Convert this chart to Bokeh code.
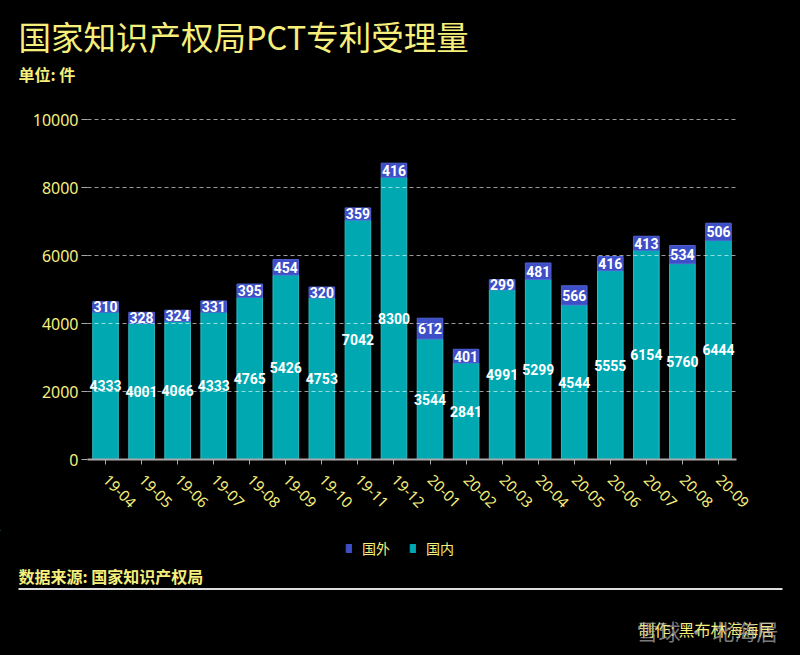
from bokeh.plotting import figure
from bokeh.layouts import column
from bokeh.models import (ColumnDataSource, FactorRange, Range1d, Legend, LegendItem,
                          SingleIntervalTicker, NumeralTickFormatter)
from bokeh.core.properties import value
from bokeh.embed import file_html
from bokeh.resources import INLINE
import math

months = ["19-04", "19-05", "19-06", "19-07", "19-08", "19-09", "19-10", "19-11", "19-12",
          "20-01", "20-02", "20-03", "20-04", "20-05", "20-06", "20-07", "20-08", "20-09"]
domestic = [4333, 4001, 4066, 4333, 4765, 5426, 4753, 7042, 8300,
            3544, 2841, 4991, 5299, 4544, 5555, 6154, 5760, 6444]
foreign = [310, 328, 324, 331, 395, 454, 320, 359, 416,
           612, 401, 299, 481, 566, 416, 413, 534, 506]
series_names = ["国外", "国内"]
title_text = "国家知识产权局PCT专利受理量"
unit_text = "单位: 件"
source_text = "数据来源: 国家知识产权局"
maker_text = "制作: 黑布林海海居"
watermark_text = "雪球 · 北海居"

YELLOW = "#f6ef7c"
TEAL = "#00a8b2"
BLUE = "#3d4ec6"
CJK = "Noto Sans CJK SC"
W = 800


def blank(h):
    f = figure(width=W, height=h, x_range=Range1d(0, W), y_range=Range1d(h, 0),
               output_backend="svg", toolbar_location=None, x_axis_type=None,
               y_axis_type=None, min_border=0, frame_align=False)
    f.background_fill_color = "black"
    f.border_fill_color = "black"
    f.outline_line_color = None
    f.grid.grid_line_color = None
    return f


# ---------- header ----------
head = blank(100)
head.text(x=[18], y=[35], text=[title_text], text_color=YELLOW, text_font=value(CJK),
          text_font_size="32.5px", text_baseline="middle")
head.text(x=[18], y=[73], text=[unit_text], text_color=YELLOW, text_font=value(CJK),
          text_font_size="16px", text_font_style="bold", text_baseline="middle")

# ---------- main chart ----------
src = ColumnDataSource(dict(
    month=months,
    domestic=domestic,
    foreign=foreign,
    dom_y=[d / 2 for d in domestic],
    for_y=[d + f / 2 for d, f in zip(domestic, foreign)],
    dom_txt=[str(d) for d in domestic],
    for_txt=[str(f) for f in foreign],
))

p = figure(width=W, height=430, x_range=FactorRange(*months, range_padding=0),
           y_range=Range1d(0, 10030), output_backend="svg", toolbar_location=None,
           min_border_left=87, min_border_right=64, min_border_top=18, min_border_bottom=71,
           frame_align=False)
p.background_fill_color = "black"
p.border_fill_color = "black"
p.outline_line_color = None

rs = p.vbar_stack(["domestic", "foreign"], x="month", width=0.71, color=[TEAL, BLUE],
                  line_color=["#2cbcc4", "#5062d6"], line_width=1, source=src)

for ycol, tcol in (("dom_y", "dom_txt"), ("for_y", "for_txt")):
    p.text(x="month", y=ycol, text=tcol, source=src, text_align="center",
           text_baseline="middle", text_color="white", text_font=value("Roboto"),
           text_font_style="bold", text_font_size="14px")

p.xgrid.grid_line_color = None
p.ygrid.grid_line_color = "white"
p.ygrid.grid_line_alpha = 0.6
p.ygrid.grid_line_dash = "4 3"
p.ygrid.level = "overlay"

p.yaxis.ticker = SingleIntervalTicker(interval=2000)
p.yaxis.axis_line_color = None
p.yaxis.major_tick_line_color = "#aaaaaa"
p.yaxis.major_tick_in = 0
p.yaxis.major_tick_out = 6
p.yaxis.minor_tick_line_color = None
p.yaxis.major_label_text_color = YELLOW
p.yaxis.major_label_text_font = "Noto Sans"
p.yaxis.major_label_text_font_size = "16px"
p.yaxis.major_label_standoff = 3
p.yaxis.formatter = NumeralTickFormatter(format="0")

p.xaxis.axis_line_color = "#aaaaaa"
p.xaxis.axis_line_width = 2
p.xaxis.major_tick_line_color = "#aaaaaa"
p.xaxis.major_tick_in = 0
p.xaxis.major_tick_out = 5
p.xaxis.major_label_orientation = -math.pi / 4
p.xaxis.major_label_text_color = YELLOW
p.xaxis.major_label_text_font = "Noto Sans"
p.xaxis.major_label_text_font_size = "15px"
p.xaxis.major_label_standoff = 13

# ---------- footer ----------
FH = 125
foot = blank(FH)
# legend swatches: helper renderers placed outside the visible range
lg_for = foot.vbar(x=[-500], top=[-500], bottom=[-510], width=1, color=BLUE)
lg_dom = foot.vbar(x=[-500], top=[-500], bottom=[-510], width=1, color=TEAL)
legend = Legend(items=[LegendItem(label=series_names[0], renderers=[lg_for]),
                       LegendItem(label=series_names[1], renderers=[lg_dom])],
                orientation="horizontal", location=(345, FH - 28),
                background_fill_alpha=0, border_line_color=None, padding=0, margin=0,
                glyph_width=7, glyph_height=10, label_standoff=10, spacing=19,
                label_text_color=YELLOW, label_text_font=CJK, label_text_font_size="14px",
                label_height=18)
foot.add_layout(legend, "center")
foot.text(x=[18], y=[45], text=[source_text], text_color=YELLOW, text_font=value(CJK),
          text_font_size="16px", text_font_style="bold", text_baseline="middle")
foot.line(x=[18, 782], y=[58.5, 58.5], line_color="#dddddd", line_width=2)
foot.text(x=[638], y=[98], text=[maker_text], text_color=YELLOW, text_font=value(CJK),
          text_font_size="16px", text_baseline="middle")
foot.text(x=[636], y=[99], text=[watermark_text], text_color="#b0b0b0", text_alpha=0.7,
          text_font=value(CJK), text_font_size="22px", text_baseline="middle")

layout = column(head, p, foot, spacing=0)
layout.styles = {"background-color": "black"}

html = file_html(layout, INLINE)
html = html.replace("<body>", '<body style="background-color:#000000;">', 1)
open("out.html", "w").write(html)
